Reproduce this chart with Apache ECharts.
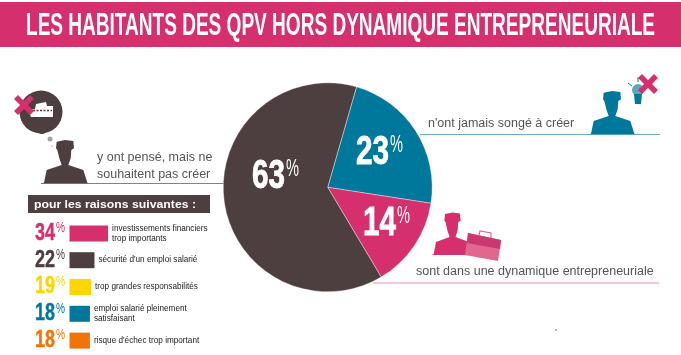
<!DOCTYPE html>
<html><head><meta charset="utf-8">
<style>html,body{margin:0;padding:0;background:#fff}#c{width:681px;height:355px}</style>
<script src="https://cdn.jsdelivr.net/npm/echarts@6/dist/echarts.min.js"></script>
</head><body><div id="c"></div>
<script>
const titleText = "LES HABITANTS DES QPV HORS DYNAMIQUE ENTREPRENEURIALE";
const pieNames = ["n'ont jamais songé à créer", "sont dans une dynamique entrepreneuriale", "y ont pensé, mais ne souhaitent pas créer"];
const pieValues = [23, 14, 63];
const reasonNames = ["investissements financiers\ntrop importants", "sécurité d'un emploi salarié", "trop grandes responsabilités", "emploi salarié pleinement\nsatisfaisant", "risque d'échec trop important"];
const reasonValues = [34, 22, 19, 18, 18];
const pink = "#d62f6d", brown = "#4d3f3f", blue = "#00789b", yellow = "#ffd500", orange = "#f07406";
const pieColors = [blue, pink, brown];
const reasonColors = [pink, brown, yellow, blue, orange];
const sans = '"Liberation Sans"';

const mctx = document.createElement('canvas').getContext('2d');
function fitScale(t, font, w){ mctx.font = font; return w / mctx.measureText(t).width; }

const personPts = [[170,185],[195,180],[220,183],[222,205],[214,210],[212,235],[205,255],[250,270],[262,308],[268,310],[124,310],[132,308],[140,270],[185,255],[178,235],[172,210],[168,205]];
function person(x, y, sx, sy, color) {
  return {type:'polygon', x:x, y:y, scaleX:sx, scaleY:sy, shape:{points:personPts}, style:{fill:color}};
}
function cross(cx, cy, r) {
  const mk = (a,b,c,d)=>({type:'line', shape:{x1:a,y1:b,x2:c,y2:d}, style:{stroke:pink, lineWidth:5.5}});
  return [mk(cx-r,cy-r,cx+r,cy+r), mk(cx-r,cy+r,cx+r,cy-r)];
}
function hline(x1,x2,y,color,w,dash){return {type:'line',shape:{x1:x1,y1:y,x2:x2,y2:y},style:{stroke:color,lineWidth:w,lineDash:dash||null}};}
function txt(x,y,t,size,color,extra,sx){return {type:'text',x:x,y:y,scaleX:sx||1,style:Object.assign({text:t,fontSize:size,fontFamily:sans,fill:color,verticalAlign:'middle'},extra||{})};}
// condensed percentage: number + small % sign
function pct(x, y, v, nSize, nW, pSize, pW, pDy, color, z, heavy){
  const s = String(v);
  return [
    Object.assign(txt(x,y,s,nSize,color,{fontWeight:'bold',stroke:color,lineWidth:heavy},fitScale(s,`bold ${nSize}px ${sans}`,nW)),{z:z}),
    Object.assign(txt(x+nW+1,y+pDy,'%',pSize,color,{},fitScale('%',`${pSize}px ${sans}`,pW)),{z:z})
  ];
}
const titleFont = `bold 31px ${sans}`;
const statics = [
  {type:'rect',shape:{x:0,y:2,width:681,height:45},style:{fill:pink}},
  txt(26,26,titleText,31,'#fff',{fontWeight:'bold'},fitScale(titleText,titleFont,629)),
  hline(41,226,183.5,'#8a8080',1),
  hline(420,660,134.5,'#6fb0c6',1),
  hline(373,659,283,'#f3c9d8',2),
  {type:'circle',shape:{cx:41,cy:112,r:21.5},style:{fill:brown}},
  {type:'circle',shape:{cx:42,cy:130,r:4},style:{fill:brown}},
  {type:'circle',shape:{cx:50,cy:139,r:2.5},style:{fill:'#a89f9f'}},
  {type:'circle',shape:{cx:52,cy:146,r:0.7},style:{fill:'#a89f9f'}},
  {type:'polygon',shape:{points:[[28,110],[35,109],[36,104],[46,102],[47,106],[53,106],[53,117],[31,117]]},style:{fill:'#fff'}},
  hline(33,52,110.5,brown,1.5,[2,1.5]),
  ...cross(24,105,8),
  person(0,80,1/3,1/3,brown),
  txt(97,158,"y ont pensé, mais ne",12.5,'#555'),
  txt(97,174.5,"souhaitent pas créer",12.5,'#555'),
  {type:'rect',shape:{x:28,y:195,width:182,height:18},style:{fill:brown}},
  txt(34,204.5,"pour les raisons suivantes :",11,'#fff',{fontWeight:'bold'},fitScale("pour les raisons suivantes :",`bold 11px ${sans}`,162)),
  txt(428,124,"n'ont jamais songé à créer",12.5,'#555'),
  person(547,31,1/3,1/3,blue),
  {type:'circle',shape:{cx:638,cy:90,r:6},style:{fill:'#5aa9c0'}},
  {type:'polygon',shape:{points:[[634,94],[642,94],[641,104],[635,104]]},style:{fill:blue}},
  {type:'line',shape:{x1:628,y1:83,x2:632,y2:86},style:{stroke:blue,lineWidth:1}},
  {type:'line',shape:{x1:638,y1:77,x2:638,y2:82},style:{stroke:blue,lineWidth:1}},
  ...cross(648,84,8),
  person(394,153.6,0.3,0.327,pink),
  {type:'polygon',shape:{points:[[468,233],[501,240],[498,261],[465,255]]},style:{fill:'#e2668e'}},
  {type:'polygon',shape:{points:[[468,233],[501,240],[500,249],[467,243]]},style:{fill:'#c9386f'}},
  {type:'polyline',shape:{points:[[479,235],[480,231],[491,233],[491,238]]},style:{stroke:'#e2668e',fill:'none',lineWidth:1.2}},
  txt(416,272,"sont dans une dynamique entrepreneuriale",12.5,'#555'),
  {type:'circle',shape:{cx:556,cy:330,r:0.8},style:{fill:blue}}
];
// pie value label anchors, same order as pieValues
const pieLabelPos = [[356,153],[363,224],[252,177]];
const pieLabels = pieValues.flatMap((v,i)=>pct(pieLabelPos[i][0],pieLabelPos[i][1],v,40,33,24,13,-8,'#fff',10,0.8));

const chart = echarts.init(document.getElementById('c'), null, {renderer:'canvas'});
chart.setOption({
  animation:false,
  grid:{left:69.5,top:220,width:113.5,height:134},
  xAxis:{type:'value',min:0,max:100,show:false},
  yAxis:{type:'category',inverse:true,data:reasonValues.map(String),
    axisLine:{show:false},axisTick:{show:false},axisLabel:{show:false}},
  series:[
    {type:'pie',center:[327.7,187.3],radius:[0,104.5],startAngle:74,clockwise:true,
     data:pieValues.map((v,i)=>({name:pieNames[i],value:v,itemStyle:{color:pieColors[i]}})),
     itemStyle:{borderColor:'#fff',borderWidth:0.4},
     emphasis:{disabled:true},
     labelLine:{show:false},label:{show:false}},
    {type:'bar',barWidth:16,silent:true,
     data:reasonValues.map((v,i)=>({value:v,itemStyle:{color:reasonColors[i]}})),
     label:{show:true,position:'right',distance:4,formatter:p=>reasonNames[p.dataIndex],
       fontFamily:sans,fontSize:8.2,lineHeight:10,color:'#222'}}
  ]
});
const rowLabels = reasonValues.flatMap((v,i)=>{
  const y = chart.convertToPixel({yAxisIndex:0}, i);
  return pct(35,y,v,23,20,14,9,-5,reasonColors[i],10,0.4);
});
chart.setOption({graphic:{elements:[...statics,...pieLabels,...rowLabels]}});
</script></body></html>
